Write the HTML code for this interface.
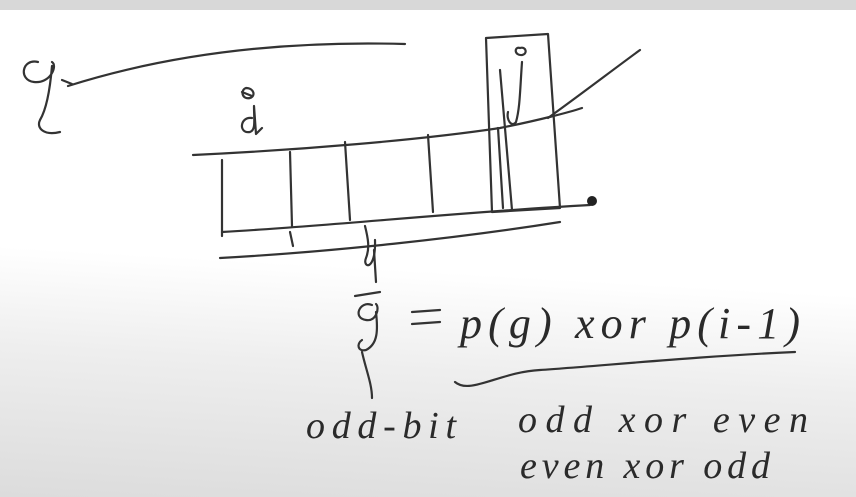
<!DOCTYPE html>
<html><head><meta charset="utf-8"><style>
html,body{margin:0;padding:0;width:856px;height:497px;overflow:hidden;background:#fff}
svg{display:block}
text{font-family:"Liberation Serif",serif;font-style:italic;fill:#2a2a2a}
</style></head><body>
<svg width="856" height="497" viewBox="0 0 856 497">
<defs>
<linearGradient id="bg" x1="0.1" y1="0" x2="0" y2="1">
<stop offset="0" stop-color="#ffffff"/>
<stop offset="0.5" stop-color="#ffffff"/>
<stop offset="0.7" stop-color="#eeeeee"/>
<stop offset="1" stop-color="#dcdcdc"/>
</linearGradient>
</defs>
<rect width="856" height="497" fill="url(#bg)"/>
<rect width="856" height="10" fill="#d8d8d8"/>
<g fill="none" stroke="#333" stroke-width="2.2" stroke-linecap="round" stroke-linejoin="round">
<path d="M38 62 C22 58 18 80 34 82 C50 84 58 66 52 62 M52 66 C50 90 46 110 40 120 C36 128 44 136 60 132"/>
<path d="M68 86 C150 60 260 40 405 44"/>
<path d="M62 80 L72 84"/>
<path d="M246 88 C240 90 242 100 250 98 C256 96 254 88 246 88 M242 92 L252 96"/>
<path d="M252 118 C240 116 238 134 250 132 C256 130 254 120 254 106 L256 134 L262 128"/>
<path d="M193 155 C300 150 420 140 500 128 C540 120 570 112 582 108"/>
<path d="M222 160 L222 236"/>
<path d="M222 232 C330 226 460 212 590 205"/>
<path d="M290 152 L292 226"/>
<path d="M345 142 L350 220"/>
<path d="M428 135 L433 212"/>
<path d="M498 128 L503 208"/>
<path d="M486 38 L548 34 L560 208 L492 212 Z"/>
<path d="M500 70 L512 210"/>
<path d="M520 48 C514 46 514 56 522 55 C528 54 526 46 520 48 M522 62 C520 90 520 108 516 122 C512 128 506 120 508 112"/>
<path d="M548 118 C580 95 610 72 640 50"/>
<path d="M220 258 C330 252 460 238 560 222"/>
<path d="M290 232 L293 246"/>
<path d="M365 226 C368 238 370 248 366 258 C362 268 376 272 375 240"/>
<path d="M374 250 L376 282"/>
<path d="M355 296 L380 292"/>
<path d="M372 305 C360 300 352 318 366 320 C376 322 380 308 376 304 M376 312 C378 330 378 344 366 350 C358 352 356 344 362 340"/>
<path d="M412 312 L440 310 M412 324 L440 322"/>
<path d="M455 382 C470 395 500 372 540 370 C600 366 700 356 795 352"/>
<path d="M362 352 C366 370 372 384 372 398"/>
</g>
<circle cx="592" cy="201" r="5" fill="#222"/>
<text x="460" y="338" font-size="44" textLength="340">p(g) xor p(i-1)</text>
<text x="306" y="438" font-size="38" textLength="150">odd-bit</text>
<text x="518" y="432" font-size="38" textLength="290">odd xor even</text>
<text x="520" y="478" font-size="38" textLength="250">even xor odd</text>
</svg>
</body></html>
